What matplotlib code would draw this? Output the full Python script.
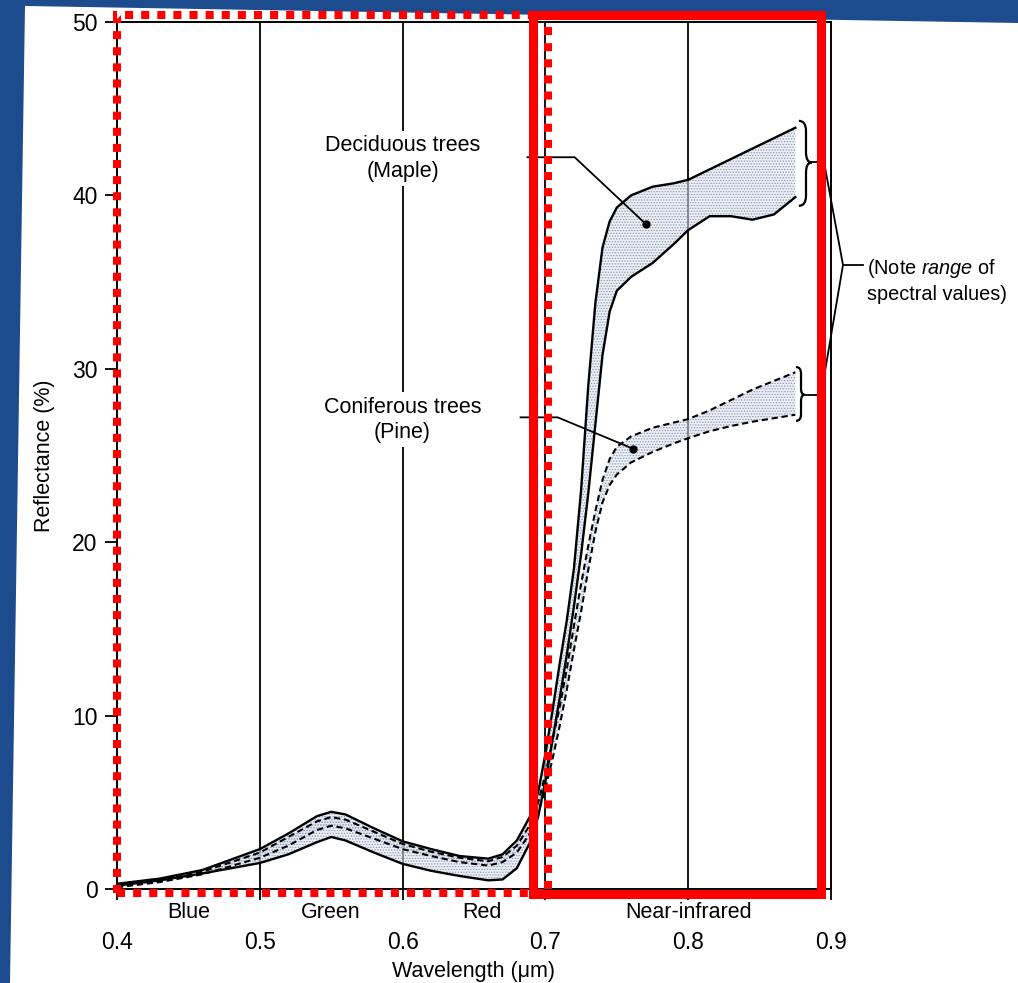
import matplotlib
matplotlib.use("Agg")
import matplotlib.pyplot as plt
from matplotlib.patches import Polygon, Rectangle, PathPatch
from matplotlib.path import Path

plt.rcParams['font.family'] = ['Liberation Sans', 'DejaVu Sans']
plt.rcParams['mathtext.fontset'] = 'custom'
plt.rcParams['mathtext.rm'] = 'Liberation Sans'
plt.rcParams['mathtext.it'] = 'Liberation Sans:italic'
plt.rcParams['hatch.linewidth'] = 0.6

# wavelength grid (um) shared by all four curves
wl = [0.40, 0.43, 0.46, 0.50, 0.52, 0.54, 0.55, 0.56, 0.58, 0.60, 0.62, 0.64,
      0.66, 0.67, 0.68, 0.69, 0.695, 0.70, 0.705, 0.71, 0.715, 0.72, 0.725,
      0.73, 0.735, 0.74, 0.745, 0.75, 0.76, 0.775, 0.79, 0.80, 0.815, 0.83,
      0.845, 0.86, 0.875]

# deciduous trees (maple), reflectance %
decid_upper = [0.3, 0.6, 1.1, 2.3, 3.2, 4.2, 4.45, 4.3, 3.5, 2.75, 2.3, 1.9,
               1.75, 2.0, 2.8, 4.3, 5.6, 7.8, 10.3, 13.0, 15.5, 18.5, 23.0,
               29.0, 33.8, 37.0, 38.5, 39.3, 40.0, 40.5, 40.7, 40.9, 41.5, 42.1,
               42.7, 43.3, 43.9]
decid_lower = [0.2, 0.5, 0.9, 1.5, 2.0, 2.7, 3.0, 2.8, 2.1, 1.45, 1.05, 0.75,
               0.5, 0.55, 1.2, 2.8, 4.2, 6.2, 8.6, 11.0, 13.5, 16.3, 19.3,
               22.8, 26.8, 30.8, 33.3, 34.5, 35.3, 36.1, 37.2, 38.0, 38.8, 38.8,
               38.6, 38.9, 39.9]

# coniferous trees (pine)
conif_upper = [0.2, 0.5, 1.0, 2.1, 3.0, 3.9, 4.15, 4.0, 3.3, 2.6, 2.15, 1.8,
               1.6, 1.85, 2.5, 3.8, 5.0, 6.6, 8.6, 10.5, 12.7, 15.2, 17.6,
               19.8, 21.8, 23.6, 24.8, 25.5, 26.1, 26.6, 26.9, 27.1, 27.6, 28.2,
               28.8, 29.3, 29.8]
conif_lower = [0.1, 0.4, 0.85, 1.8, 2.5, 3.4, 3.65, 3.5, 2.9, 2.3, 1.9, 1.55,
               1.35, 1.55, 2.1, 3.3, 4.4, 5.8, 7.5, 9.4, 11.5, 13.8, 16.0,
               18.4, 20.6, 22.3, 23.3, 23.9, 24.6, 25.2, 25.7, 26.0, 26.4, 26.7,
               26.95, 27.15, 27.35]

xticks = [0.4, 0.5, 0.6, 0.7, 0.8, 0.9]
xtick_labels = ['0.4', '0.5', '0.6', '0.7', '0.8', '0.9']
yticks = [0, 10, 20, 30, 40, 50]
grid_x = [0.5, 0.6, 0.7, 0.8]

bands = ['Blue', 'Green', 'Red', 'Near-infrared']
band_x = [0.4505, 0.5494, 0.6553, 0.8004]


def brace(ax, xl, xm, xt, y0, y1, ym):
    r = (y1 - y0) * 0.12
    verts = [(xl, y1), (xm, y1), (xm, y1 - r), (xm, ym + r), (xm, ym), (xt, ym),
             (xm, ym), (xm, ym - r), (xm, y0 + r), (xm, y0), (xl, y0)]
    codes = [Path.MOVETO, Path.CURVE3, Path.CURVE3, Path.LINETO, Path.CURVE3,
             Path.CURVE3, Path.CURVE3, Path.CURVE3, Path.LINETO, Path.CURVE3,
             Path.CURVE3]
    ax.add_patch(PathPatch(Path(verts, codes), fill=False, lw=1.6,
                           ec='black', clip_on=False, zorder=4))


fig = plt.figure(figsize=(10.18, 9.83), dpi=100)
fig.patch.set_facecolor('#1d4c8e')
paper = Polygon([(25 / 1018, 1 - 6 / 983), (1, 1 - 23 / 983), (1, 0), (10 / 1018, 0)],
                closed=True, transform=fig.transFigure, facecolor='white',
                edgecolor='none', zorder=-1)
fig.add_artist(paper)

ax = fig.add_axes([117 / 1018, 1 - 889 / 983, (831 - 117) / 1018, (889 - 22) / 983])
ax.set_facecolor('white')
ax.set_xlim(0.4, 0.9)
ax.set_ylim(0, 50)

for gx in grid_x:
    ax.axvline(gx, color='black', lw=1.3, zorder=1)

# bands
ax.fill_between(wl, decid_lower, decid_upper, facecolor=(0.86, 0.89, 0.94, 0.55),
                edgecolor='#8c97ae', hatch='......', linewidth=0, zorder=2)
ax.fill_between(wl, conif_lower, conif_upper, facecolor=(0.86, 0.89, 0.94, 0.55),
                edgecolor='#8c97ae', hatch='......', linewidth=0, zorder=2)
ax.plot(wl, decid_upper, color='black', lw=1.7, zorder=3)
ax.plot(wl, decid_lower, color='black', lw=1.7, zorder=3)
ax.plot(wl, conif_upper, color='black', lw=1.5, ls=(0, (3, 1.8)), zorder=3)
ax.plot(wl, conif_lower, color='black', lw=1.5, ls=(0, (3, 1.8)), zorder=3)

# labels with leader lines
ax.text(0.6, 42.15, 'Deciduous trees\n(Maple)', ha='center', va='center',
        fontsize=15.5, linespacing=1.3, zorder=5,
        bbox=dict(facecolor='white', edgecolor='none', pad=3))
ax.plot([0.6875, 0.7205, 0.7703], [42.2, 42.2, 38.35], color='black', lw=1.3, zorder=4)
ax.plot([0.7703], [38.35], 'o', color='black', ms=5, zorder=4)

ax.text(0.6, 27.05, 'Coniferous trees\n(Pine)', ha='center', va='center',
        fontsize=15.5, linespacing=1.3, zorder=5,
        bbox=dict(facecolor='white', edgecolor='none', pad=3))
ax.plot([0.6826, 0.7086, 0.7611], [27.2, 27.2, 25.4], color='black', lw=1.3, zorder=4)
ax.plot([0.7611], [25.4], 'o', color='black', ms=5, zorder=4)

# braces and range note
brace(ax, 0.8775, 0.8825, 0.8865, 39.4, 44.3, 41.9)
brace(ax, 0.8755, 0.879, 0.8815, 27.0, 30.1, 28.5)
ax.plot([0.8865, 0.8951], [41.93, 41.93], color='black', lw=1.3, clip_on=False, zorder=4)
ax.plot([0.8815, 0.8909], [28.49, 28.49], color='black', lw=1.3, clip_on=False, zorder=4)
ax.plot([0.8951, 0.9084, 0.8930], [41.93, 35.99, 28.49], color='black', lw=1.3,
        clip_on=False, zorder=4)
ax.plot([0.9084, 0.9224], [35.99, 35.99], color='black', lw=1.3, clip_on=False, zorder=4)
ax.text(0.9255, 35.1, '(Note $\\mathit{range}$ of\nspectral values)', ha='left',
        va='center', fontsize=14.3, linespacing=1.35)

# spectral region names
for name, bx in zip(bands, band_x):
    ax.text(bx, -1.35, name, ha='center', va='center', fontsize=15.5, clip_on=False)

ax.set_xticks(xticks)
ax.set_xticklabels(xtick_labels)
ax.set_yticks(yticks)
ax.tick_params(axis='x', direction='out', length=8, width=1.3, pad=22, labelsize=16.5)
ax.tick_params(axis='y', direction='out', length=9, width=1.3, pad=5, labelsize=16.5)
for s in ax.spines.values():
    s.set_linewidth(1.4)

ax.set_xlabel('Wavelength (μm)', fontsize=15.5, labelpad=5)
ax.set_ylabel('Reflectance (%)', fontsize=15.5, labelpad=12)

# red highlight boxes
ax.add_patch(Rectangle((0.4, -0.25), 0.3015, 50.65, fill=False, ec='red', lw=5.8,
                       ls=(0, (1, 1)), clip_on=False, zorder=10))
ax.add_patch(Rectangle((0.691, -0.29), 0.202, 50.69, fill=False, ec='red', lw=6.5,
                       clip_on=False, zorder=11))

fig.savefig('out.png', dpi=100, facecolor=fig.get_facecolor())
